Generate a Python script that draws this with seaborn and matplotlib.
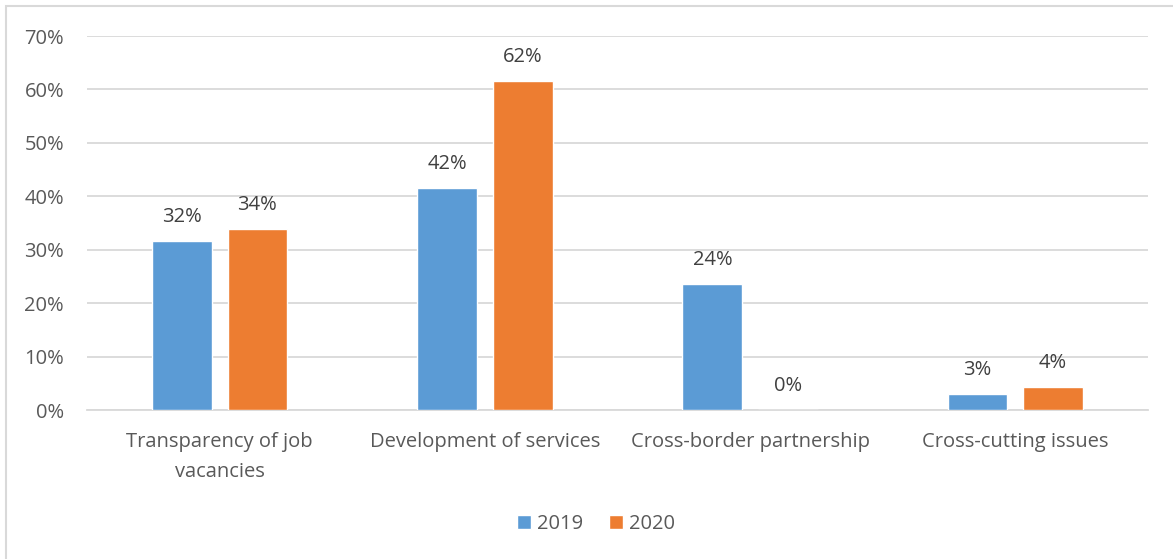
import matplotlib
matplotlib.use("Agg")
import matplotlib.pyplot as plt
from matplotlib.patches import Rectangle
import pandas as pd
import seaborn as sns

categories = ["Transparency of job\nvacancies", "Development of services",
              "Cross-border partnership", "Cross-cutting issues"]
years = ["2019", "2020"]
values_2019 = [0.316, 0.415, 0.236, 0.030]
values_2020 = [0.339, 0.616, 0.000, 0.043]
y_ticks = [0.0, 0.1, 0.2, 0.3, 0.4, 0.5, 0.6, 0.7]

df = pd.DataFrame({
    "category": categories * 2,
    "year": [years[0]] * 4 + [years[1]] * 4,
    "share": values_2019 + values_2020,
})

sns.set_theme(style="white")
plt.rcParams["font.family"] = ["Open Sans", "DejaVu Sans"]

text_color = "#595959"
grid_color = "#d9d9d9"
palette = {"2019": "#5b9bd5", "2020": "#ed7d31"}
fs = 14.5

fig = plt.figure(figsize=(11.73, 5.59), dpi=100)
ax = fig.add_axes([87 / 1173, 1 - 410 / 559, (1148 - 87) / 1173, (410 - 36) / 559])

sns.barplot(data=df, x="category", y="share", hue="year", order=categories,
            hue_order=years, palette=palette, width=0.57, gap=0.21,
            saturation=1, ax=ax, legend=True, zorder=3)

ax.set_ylim(0, 0.7)
ax.set_xlim(-0.5, 3.5)
ax.set_yticks(y_ticks)
ax.set_yticklabels([f"{t:.0%}" for t in y_ticks])
ax.yaxis.grid(True, color=grid_color, linewidth=1.3, zorder=0)
ax.set_axisbelow(True)
for side in ["left", "right", "top"]:
    ax.spines[side].set_visible(False)
ax.spines["bottom"].set_color(grid_color)
ax.spines["bottom"].set_linewidth(1.3)
ax.set_xlabel("")
ax.set_ylabel("")
ax.tick_params(axis="both", length=0, labelsize=fs, colors=text_color)
ax.tick_params(axis="y", pad=16.5)
ax.tick_params(axis="x", pad=16)
for lbl in ax.get_xticklabels():
    lbl.set_linespacing(1.65)

for container in ax.containers:
    ax.bar_label(container, labels=[f"{v:.0%}" for v in container.datavalues],
                 padding=10, fontsize=fs, color="#404040")

handles, labels = ax.get_legend_handles_labels()
ax.legend_.remove()
fig.legend(handles, labels, loc="center", bbox_to_anchor=(596 / 1173, 1 - 524 / 559),
           ncol=2, frameon=False, fontsize=fs, handlelength=0.7, handleheight=0.7,
           handletextpad=0.3, columnspacing=1.3, labelcolor=text_color)

fig.patches.append(Rectangle((5.5 / 1173, -0.1), 1.2, 1 - 6.5 / 559 + 0.1,
                             transform=fig.transFigure, fill=False,
                             edgecolor=grid_color, linewidth=1.5))

fig.savefig("out.png", dpi=100)
